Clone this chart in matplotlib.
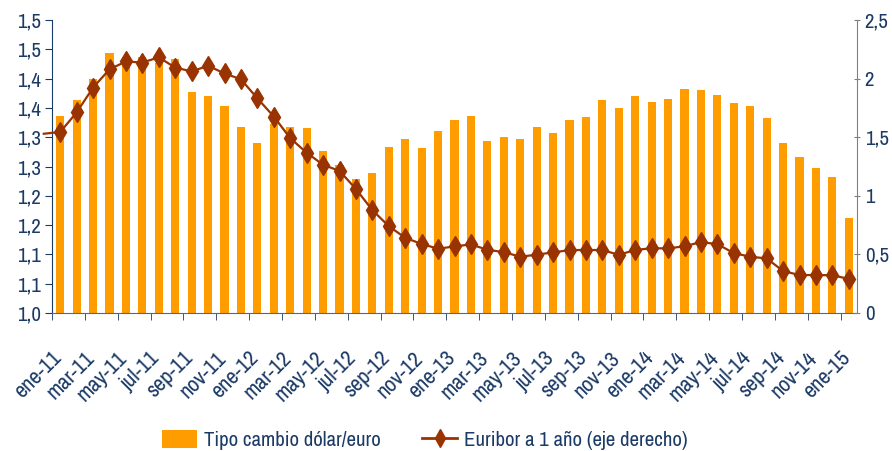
import numpy as np
import matplotlib as mpl
mpl.use('Agg')
from matplotlib import pyplot as plt
from matplotlib import font_manager as fm
from matplotlib import transforms
from matplotlib.lines import Line2D
from matplotlib.patches import Patch

# narrow sans like Arial Narrow, whichever is installed
family = 'DejaVu Sans'
for cand in ['Liberation Sans Narrow', 'Arial Narrow', 'Archivo Narrow', 'PT Sans Narrow', 'Roboto Condensed']:
    try:
        fm.findfont(fm.FontProperties(family=cand), fallback_to_default=False)
        family = cand
        break
    except ValueError:
        pass
plt.rcParams['font.family'] = [family, 'DejaVu Sans']
if family == 'DejaVu Sans':
    plt.rcParams['font.stretch'] = 'condensed'

# months ene-11 .. ene-15
months = ['ene-11', 'feb-11', 'mar-11', 'abr-11', 'may-11', 'jun-11', 'jul-11', 'ago-11',
          'sep-11', 'oct-11', 'nov-11', 'dic-11', 'ene-12', 'feb-12', 'mar-12', 'abr-12',
          'may-12', 'jun-12', 'jul-12', 'ago-12', 'sep-12', 'oct-12', 'nov-12', 'dic-12',
          'ene-13', 'feb-13', 'mar-13', 'abr-13', 'may-13', 'jun-13', 'jul-13', 'ago-13',
          'sep-13', 'oct-13', 'nov-13', 'dic-13', 'ene-14', 'feb-14', 'mar-14', 'abr-14',
          'may-14', 'jun-14', 'jul-14', 'ago-14', 'sep-14', 'oct-14', 'nov-14', 'dic-14',
          'ene-15']

# tipo de cambio dolar/euro (eje izquierdo)
usd_eur = [1.336, 1.364, 1.399, 1.444, 1.432, 1.437, 1.427, 1.433, 1.377, 1.370,
           1.354, 1.318, 1.290, 1.322, 1.317, 1.316, 1.277, 1.253, 1.229, 1.239,
           1.284, 1.297, 1.281, 1.311, 1.330, 1.336, 1.294, 1.301, 1.297, 1.318,
           1.308, 1.330, 1.334, 1.364, 1.350, 1.370, 1.361, 1.365, 1.382, 1.381,
           1.372, 1.358, 1.354, 1.333, 1.290, 1.267, 1.247, 1.233, 1.162]

# euribor 12 meses (eje derecho)
euribor = [1.545, 1.712, 1.924, 2.080, 2.147, 2.138, 2.182, 2.095, 2.062, 2.110,
           2.045, 1.995, 1.832, 1.677, 1.492, 1.368, 1.265, 1.213, 1.058, 0.878,
           0.741, 0.642, 0.589, 0.549, 0.568, 0.586, 0.539, 0.520, 0.480, 0.498,
           0.517, 0.537, 0.538, 0.537, 0.497, 0.538, 0.553, 0.551, 0.570, 0.605,
           0.588, 0.511, 0.480, 0.466, 0.358, 0.324, 0.324, 0.322, 0.291]
euribor_prev = 1.53  # dic-10, only the stub of line before ene-11

left_ticks = [1.0, 1.05, 1.1, 1.15, 1.2, 1.25, 1.3, 1.35, 1.4, 1.45, 1.5]
left_labels = ['1,0', '1,1', '1,1', '1,2', '1,2', '1,3', '1,3', '1,4', '1,4', '1,5', '1,5']
right_ticks = [0, 0.5, 1, 1.5, 2, 2.5]
right_labels = ['0', '0,5', '1', '1,5', '2', '2,5']

txt = '#1b3a66'
orange = '#ff9c00'
brown = '#993300'

fig = plt.figure(figsize=(8.92, 4.51), dpi=100)
ax = fig.add_axes([0.0583, 0.306, 0.9025, 0.6494])
x = np.arange(len(months))

ax.bar(x, usd_eur, width=0.5, color=orange, bottom=0)
ax.set_ylim(1.0, 1.5)
ax.set_xlim(-0.5, len(months) - 0.5)
ax.set_yticks(left_ticks)
ax.set_yticklabels(left_labels)
ax.tick_params(axis='y', colors=txt, labelsize=15, length=5, direction='out', pad=3)

ax.set_xticks(x[::2])
ax.set_xticklabels(months[::2], rotation=45, ha='right', rotation_mode='anchor')
ax.set_xticks(np.arange(-0.5, len(months), 2), minor=True)
ax.tick_params(axis='x', which='major', length=0, pad=25, labelsize=16, colors=txt)
ax.tick_params(axis='x', which='minor', length=5, color=txt, direction='out')
shift = transforms.ScaledTranslation(-9 / 100, 0, fig.dpi_scale_trans)
for lab in ax.get_xticklabels():
    lab.set_transform(lab.get_transform() + shift)
for s in ['top', 'right']:
    ax.spines[s].set_visible(False)
ax.spines['left'].set_color(txt)
ax.spines['bottom'].set_color('#4a6a94')

ax2 = ax.twinx()
ax2.plot(np.r_[-1, x], np.r_[euribor_prev, euribor], color=brown, lw=1.6, clip_on=False,
         marker='d', markersize=10, markevery=list(range(1, len(x) + 1)),
         markerfacecolor=brown, markeredgecolor=brown)
ax2.set_ylim(0, 2.5)
ax2.set_xlim(-0.5, len(months) - 0.5)
ax2.set_yticks(right_ticks)
ax2.set_yticklabels(right_labels)
ax2.tick_params(axis='y', colors=txt, labelsize=15, length=5, direction='inout', pad=3)
ax2.tick_params(axis='y', color='#808080')
for s in ['top', 'left', 'bottom']:
    ax2.spines[s].set_visible(False)
ax2.spines['right'].set_color('#808080')

handles = [Patch(facecolor=orange, edgecolor='none'),
           Line2D([], [], color=brown, lw=2, marker='d', markersize=9)]
fig.legend(handles, ['Tipo cambio dólar/euro', 'Euribor a 1 año (eje derecho)'],
           loc='lower center', bbox_to_anchor=(0.476, -0.04), ncol=2, frameon=False,
           fontsize=15, labelcolor=txt, handlelength=1.7, handleheight=0.95,
           columnspacing=2.0, handletextpad=0.3)

fig.savefig('out.png', dpi=100)
